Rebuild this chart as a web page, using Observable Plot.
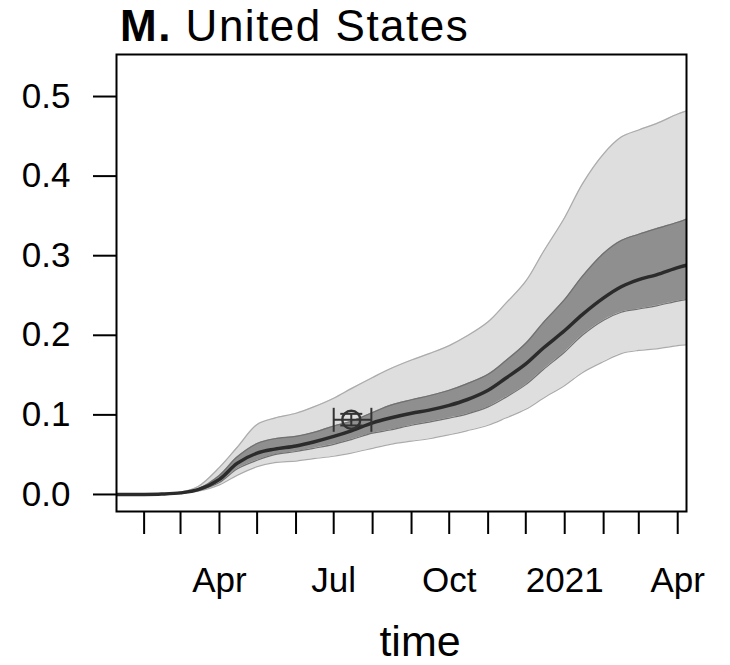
<!DOCTYPE html>
<html>
<head>
<meta charset="utf-8">
<script src="https://cdn.jsdelivr.net/npm/d3@7"></script>
<script src="https://cdn.jsdelivr.net/npm/@observablehq/plot@0.6"></script>
<style>
  html, body { margin: 0; padding: 0; background: white; }
</style>
</head>
<body>
<div id="chart"></div>
<script>
// ---- data ----
const dates = ["2020-01-10","2020-02-01","2020-02-15","2020-03-01","2020-03-15","2020-04-01","2020-04-15","2020-05-01","2020-05-15","2020-06-01","2020-06-15","2020-07-01","2020-07-15","2020-08-01","2020-08-15","2020-09-01","2020-09-15","2020-10-01","2020-10-15","2020-11-01","2020-11-15","2020-12-01","2020-12-15","2021-01-01","2021-01-15","2021-02-01","2021-02-15","2021-03-01","2021-03-15","2021-04-01","2021-04-08"];
const median  = [0,0,0.0005,0.002,0.006,0.019,0.039,0.052,0.057,0.061,0.066,0.073,0.080,0.090,0.096,0.102,0.106,0.112,0.119,0.131,0.146,0.164,0.184,0.206,0.226,0.247,0.261,0.270,0.276,0.285,0.288];
const innerLo = [0,0,0.0004,0.0015,0.005,0.015,0.032,0.043,0.050,0.054,0.058,0.063,0.069,0.077,0.081,0.087,0.091,0.096,0.101,0.110,0.122,0.138,0.157,0.179,0.200,0.219,0.229,0.233,0.237,0.243,0.245];
const innerHi = [0,0,0.0006,0.0025,0.007,0.024,0.047,0.064,0.070,0.073,0.078,0.086,0.092,0.103,0.112,0.119,0.124,0.131,0.139,0.151,0.168,0.190,0.216,0.245,0.274,0.303,0.319,0.327,0.334,0.342,0.346];
const outerLo = [0,0,0.0003,0.001,0.004,0.012,0.024,0.035,0.040,0.042,0.045,0.048,0.052,0.058,0.063,0.067,0.070,0.075,0.080,0.087,0.096,0.107,0.121,0.137,0.153,0.167,0.177,0.181,0.183,0.187,0.188];
const outerHi = [0,0,0.0008,0.003,0.010,0.034,0.059,0.088,0.096,0.102,0.110,0.121,0.133,0.147,0.158,0.169,0.177,0.187,0.199,0.217,0.240,0.268,0.305,0.348,0.390,0.428,0.449,0.458,0.466,0.478,0.482];

// observed estimate with confidence intervals
const obsDate = "2020-07-15";
const obsValue = 0.0938;
const obsDateLo = "2020-07-01";
const obsDateHi = "2020-07-31";
const obsLo = 0.0867;
const obsHi = 0.1013;

// axes
const xDomain = ["2020-01-10", "2021-04-08"];
const yDomain = [-0.0214, 0.5528];
const yTicks = [0, 0.1, 0.2, 0.3, 0.4, 0.5];
const monthTicks = ["2020-02-01","2020-03-01","2020-04-01","2020-05-01","2020-06-01","2020-07-01","2020-08-01","2020-09-01","2020-10-01","2020-11-01","2020-12-01","2021-01-01","2021-02-01","2021-03-01","2021-04-01"];
const labelTicks = ["2020-04-01","2020-07-01","2020-10-01","2021-01-01","2021-04-01"];
const labelTexts = ["Apr","Jul","Oct","2021","Apr"];

const titleBold = "M.";
const titleRest = " United States";
const xLabel = "time";

// ---- build ----
const P = s => new Date(s + "T00:00:00Z");
const rows = dates.map((d, i) => ({date: P(d), med: median[i], ilo: innerLo[i], ihi: innerHi[i], olo: outerLo[i], ohi: outerHi[i]}));
const labelMap = new Map(labelTicks.map((d, i) => [+P(d), labelTexts[i]]));
const obs = [{date: P(obsDate), v: obsValue, d1: P(obsDateLo), d2: P(obsDateHi), lo: obsLo, hi: obsHi}];

const vCap = {draw(ctx) { ctx.moveTo(0, -12); ctx.lineTo(0, 12); }};
const hCap = {draw(ctx) { ctx.moveTo(-11, 0); ctx.lineTo(11, 0); }};
const curve = "catmull-rom";

const svg = Plot.plot({
  width: 730, height: 665,
  marginLeft: 116, marginRight: 44, marginTop: 54, marginBottom: 154,
  style: {fontFamily: '"Liberation Sans", Arial, Helvetica, sans-serif', fontSize: "35px", background: "white", color: "black"},
  x: {type: "utc", domain: xDomain.map(P)},
  y: {domain: yDomain},
  marks: [
    Plot.areaY(rows, {x: "date", y1: "olo", y2: "ohi", fill: "#dedede", curve, clip: true}),
    Plot.lineY(rows, {x: "date", y: "olo", stroke: "#ababab", strokeWidth: 1.2, curve, clip: true}),
    Plot.lineY(rows, {x: "date", y: "ohi", stroke: "#ababab", strokeWidth: 1.2, curve, clip: true}),
    Plot.areaY(rows, {x: "date", y1: "ilo", y2: "ihi", fill: "#8f8f8f", curve, clip: true}),
    Plot.lineY(rows, {x: "date", y: "ilo", stroke: "#707070", strokeWidth: 1.2, curve, clip: true}),
    Plot.lineY(rows, {x: "date", y: "ihi", stroke: "#707070", strokeWidth: 1.2, curve, clip: true}),
    Plot.lineY(rows, {x: "date", y: "med", stroke: "#2b2b2b", strokeWidth: 3.5, curve, clip: true}),
    // observation
    Plot.link(obs, {x1: "d1", x2: "d2", y1: "v", y2: "v", stroke: "#333", strokeWidth: 2}),
    Plot.link(obs, {x1: "date", x2: "date", y1: "lo", y2: "hi", stroke: "#333", strokeWidth: 2}),
    Plot.dot(obs, {x: "d1", y: "v", symbol: vCap, stroke: "#333", strokeWidth: 2}),
    Plot.dot(obs, {x: "d2", y: "v", symbol: vCap, stroke: "#333", strokeWidth: 2}),
    Plot.dot(obs, {x: "date", y: "lo", symbol: hCap, stroke: "#333", strokeWidth: 2}),
    Plot.dot(obs, {x: "date", y: "hi", symbol: hCap, stroke: "#333", strokeWidth: 2}),
    Plot.dot(obs, {x: "date", y: "v", r: 9, stroke: "#333", strokeWidth: 2.4, fill: "none"}),
    Plot.frame({stroke: "black", strokeWidth: 2}),
    Plot.axisY(yTicks, {tickSize: 23, tickPadding: 23, strokeWidth: 2, tickFormat: d => d.toFixed(1)}),
    Plot.axisX(monthTicks.map(P), {tickSize: 23, strokeWidth: 2, tickFormat: () => ""}),
    Plot.axisX(labelTicks.map(P), {tickSize: 0, tickPadding: 56, tickFormat: d => labelMap.get(+d)})
  ]
});

const s = d3.select(svg);
const t = s.append("text").attr("x", 120).attr("y", 41).attr("text-anchor", "start")
  .attr("font-size", 44).attr("letter-spacing", "1.5px").attr("fill", "black").style("white-space", "pre");
t.append("tspan").attr("font-weight", "bold").text(titleBold);
t.append("tspan").text(titleRest);
s.append("text").attr("x", 420).attr("y", 656).attr("text-anchor", "middle")
  .attr("font-size", 43).attr("fill", "black").text(xLabel);

document.getElementById("chart").appendChild(svg);
</script>
</body>
</html>
